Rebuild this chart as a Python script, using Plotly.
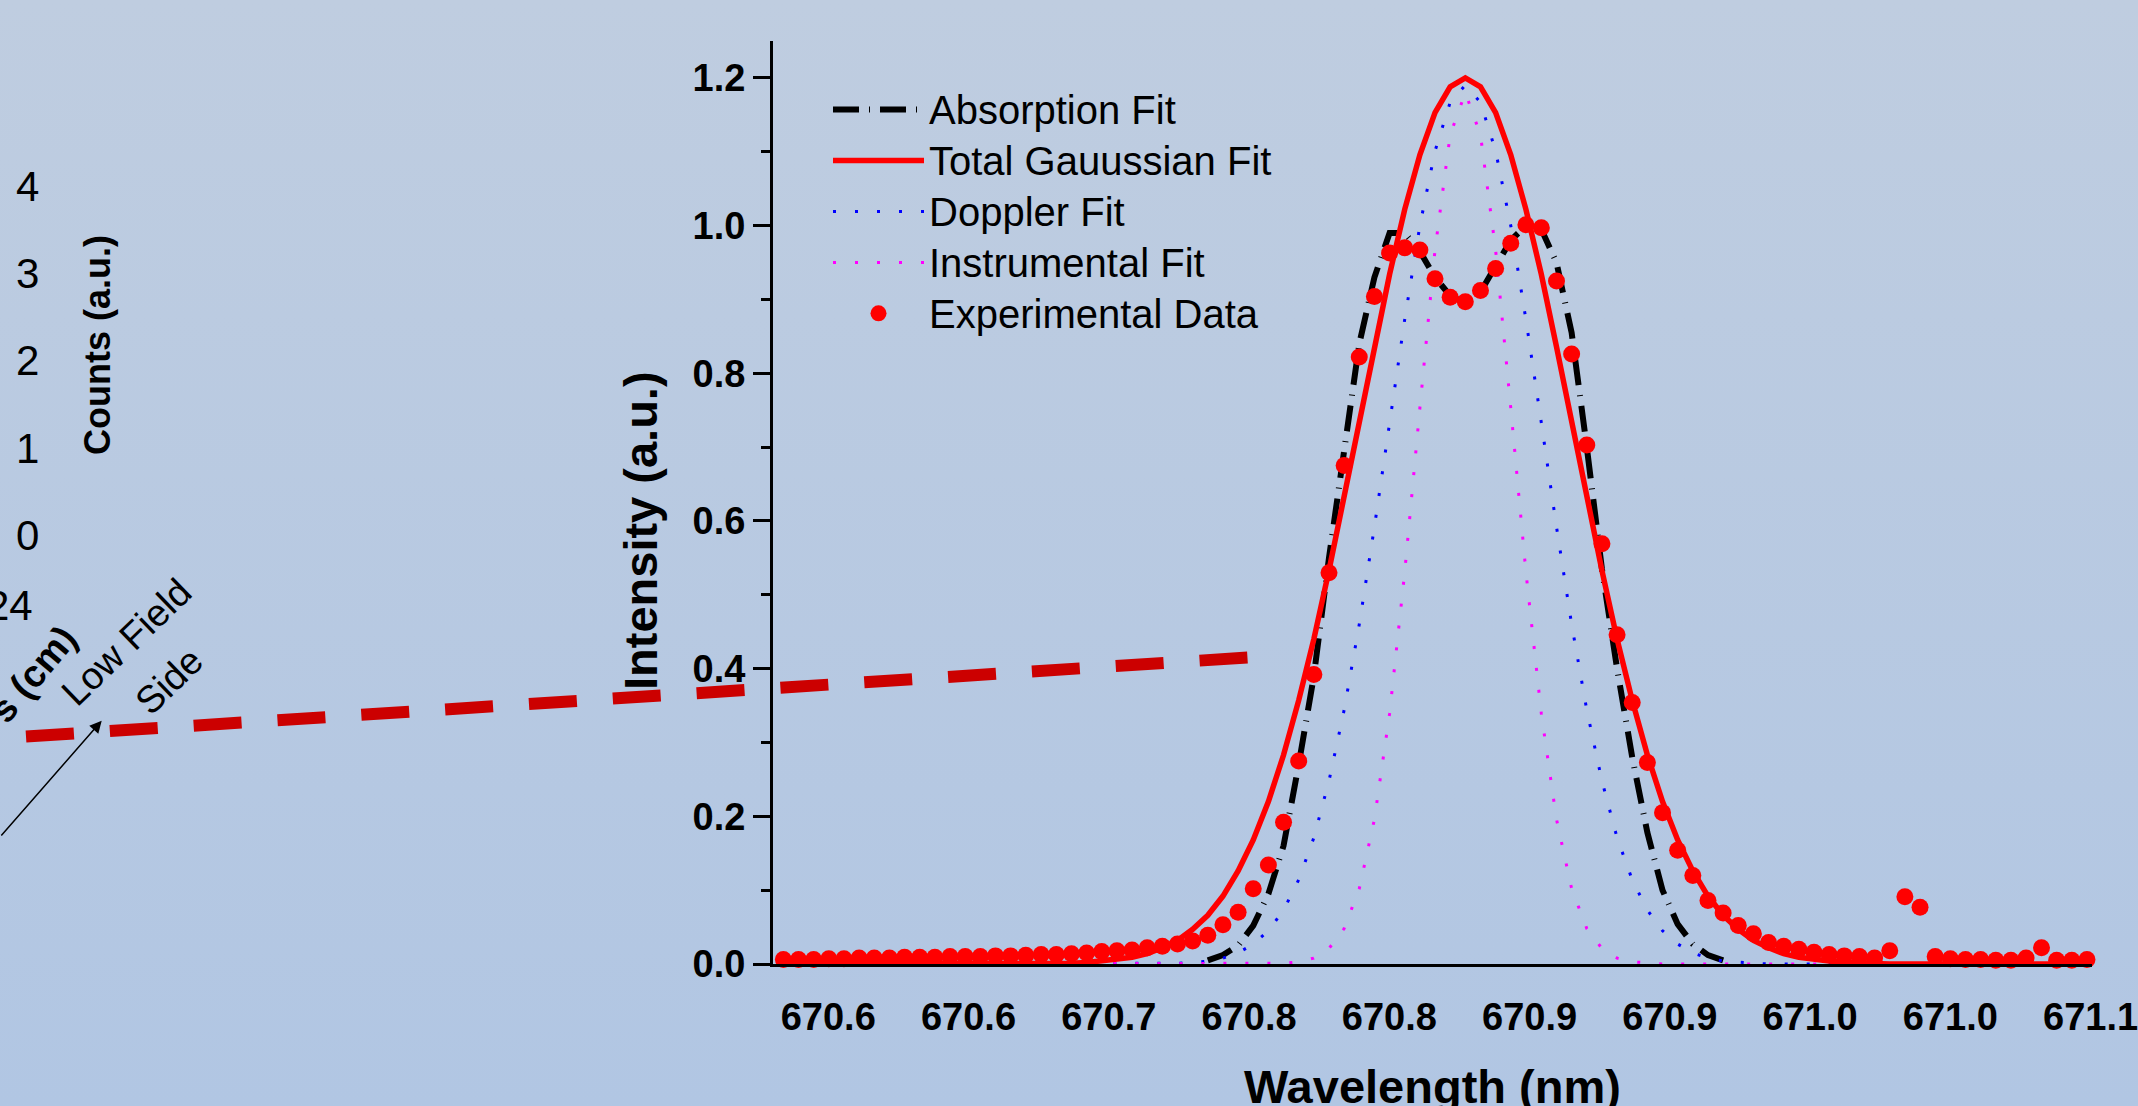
import base64
import plotly.graph_objects as go

# ---------------- data ----------------
wavelength = [
    670.5840, 670.5894, 670.5948, 670.6002, 670.6056, 670.6110, 670.6164, 670.6218, 670.6272, 670.6326,
    670.6380, 670.6434, 670.6488, 670.6542, 670.6596, 670.6650, 670.6704, 670.6759, 670.6813, 670.6867,
    670.6921, 670.6975, 670.7029, 670.7083, 670.7137, 670.7191, 670.7245, 670.7299, 670.7353, 670.7407,
    670.7461, 670.7515, 670.7569, 670.7623, 670.7677, 670.7731, 670.7785, 670.7839, 670.7893, 670.7947,
    670.8001, 670.8055, 670.8109, 670.8163, 670.8217, 670.8271, 670.8325, 670.8379, 670.8433, 670.8487,
    670.8542, 670.8596, 670.8650, 670.8704, 670.8758, 670.8812, 670.8866, 670.8920, 670.8974, 670.9028,
    670.9082, 670.9136, 670.9190, 670.9244, 670.9298, 670.9352, 670.9406, 670.9460, 670.9514, 670.9568,
    670.9622, 670.9676, 670.9730, 670.9784, 670.9838, 670.9892, 670.9946, 671.0000, 671.0054, 671.0108,
    671.0162, 671.0216, 671.0270, 671.0325, 671.0379, 671.0433, 671.0487,
]

experimental_data = [
    0.006, 0.006, 0.006, 0.007, 0.007, 0.008, 0.008, 0.008, 0.009, 0.009,
    0.009, 0.010, 0.010, 0.010, 0.011, 0.011, 0.012, 0.013, 0.013, 0.014,
    0.015, 0.017, 0.018, 0.019, 0.022, 0.024, 0.027, 0.031, 0.039, 0.053,
    0.070, 0.102, 0.134, 0.192, 0.275, 0.392, 0.530, 0.675, 0.822, 0.904,
    0.963, 0.970, 0.967, 0.928, 0.903, 0.897, 0.912, 0.942, 0.976, 1.001,
    0.997, 0.925, 0.826, 0.703, 0.569, 0.446, 0.354, 0.273, 0.205, 0.154,
    0.120, 0.086, 0.069, 0.052, 0.041, 0.029, 0.024, 0.020, 0.016, 0.013,
    0.011, 0.010, 0.008, 0.018, 0.091, 0.077, 0.010, 0.007, 0.006, 0.006,
    0.005, 0.005, 0.008, 0.022, 0.005, 0.005, 0.006,
]

total_gaussian_fit = [
    0, 0, 0, 0, 0, 0, 0, 0, 0, 0,
    0, 0, 0, 0, 0, 0, 0, 0, 0, 0.001,
    0.002, 0.004, 0.006, 0.009, 0.014, 0.022, 0.032, 0.047, 0.066, 0.092,
    0.126, 0.168, 0.220, 0.283, 0.357, 0.440, 0.533, 0.632, 0.734, 0.836,
    0.934, 1.022, 1.096, 1.153, 1.188, 1.200, 1.188, 1.153, 1.096, 1.022,
    0.934, 0.836, 0.734, 0.632, 0.533, 0.440, 0.357, 0.283, 0.220, 0.168,
    0.126, 0.092, 0.066, 0.047, 0.032, 0.022, 0.014, 0.009, 0.006, 0.004,
    0.002, 0.001, 0, 0, 0, 0, 0, 0, 0, 0,
    0, 0, 0, 0, 0, 0, 0,
]

doppler_fit = [
    0, 0, 0, 0, 0, 0, 0, 0, 0, 0,
    0, 0, 0, 0, 0, 0, 0, 0, 0, 0,
    0, 0, 0, 0, 0, 0, 0.001, 0.002, 0.004, 0.008,
    0.015, 0.027, 0.045, 0.073, 0.114, 0.171, 0.248, 0.344, 0.460, 0.592,
    0.733, 0.873, 1.000, 1.101, 1.167, 1.190, 1.167, 1.101, 1.000, 0.873,
    0.733, 0.592, 0.460, 0.344, 0.248, 0.171, 0.114, 0.073, 0.045, 0.027,
    0.015, 0.008, 0.004, 0.002, 0.001, 0, 0, 0, 0, 0,
    0, 0, 0, 0, 0, 0, 0, 0, 0, 0,
    0, 0, 0, 0, 0, 0, 0,
]

instrumental_fit = [
    0, 0, 0, 0, 0, 0, 0, 0, 0, 0,
    0, 0, 0, 0, 0, 0, 0, 0, 0, 0,
    0, 0, 0, 0, 0, 0, 0, 0, 0, 0,
    0, 0, 0, 0.001, 0.003, 0.008, 0.021, 0.048, 0.102, 0.196,
    0.339, 0.531, 0.753, 0.967, 1.123, 1.180, 1.123, 0.967, 0.753, 0.531,
    0.339, 0.196, 0.102, 0.048, 0.021, 0.008, 0.003, 0.001, 0, 0,
    0, 0, 0, 0, 0, 0, 0, 0, 0, 0,
    0, 0, 0, 0, 0, 0, 0, 0, 0, 0,
    0, 0, 0, 0, 0, 0, 0,
]

absorption_fit = [
    None, None, None, None, None, None, None, None, None, None,
    None, None, None, None, None, None, None, None, None, None,
    None, None, None, None, None, None, None, None, 0.005, 0.012,
    0.025, 0.052, 0.095, 0.160, 0.270, 0.390, 0.550, 0.700, 0.840, 0.930,
    0.990, 0.990, 0.965, 0.930, 0.905, 0.895, 0.910, 0.945, 0.980, 1.000,
    0.995, 0.950, 0.855, 0.700, 0.535, 0.400, 0.280, 0.178, 0.100, 0.054,
    0.027, 0.012, 0.005, None, None, None, None, None, None, None,
    None, None, None, None, None, None, None, None, None, None,
    None, None, None, None, None, None, None,
]

series_names = ["Absorption Fit", "Total Gauussian Fit", "Doppler Fit", "Instrumental Fit", "Experimental Data"]

x_tick_vals = [670.60, 670.65, 670.70, 670.75, 670.80, 670.85, 670.90, 670.95, 671.00, 671.05]
x_tick_text = ["670.6", "670.6", "670.7", "670.8", "670.8", "670.9", "670.9", "671.0", "671.0", "671.1"]
x_long_ticks = [670.60, 670.70, 670.80, 670.90, 671.00]
x_short_ticks = [670.65, 670.75, 670.85, 670.95, 671.05]
y_tick_vals = [0.0, 0.2, 0.4, 0.6, 0.8, 1.0, 1.2]
y_tick_text = ["0.0", "0.2", "0.4", "0.6", "0.8", "1.0", "1.2"]
y_minor_vals = [0.1, 0.3, 0.5, 0.7, 0.9, 1.1]
left_panel_ticks = ["4", "3", "2", "1", "0"]

X_RANGE = [670.5803, 671.0505]
Y_RANGE = [0.0, 1.25]

# ---------------- layout geometry (pixels) ----------------
W, H = 2138, 1106
L, R, T, B = 773, 2092, 41, 964


def px(x):
    return (x - L) / (R - L)


def py(y):
    return (B - y) / (B - T)


FONT = "Liberation Sans"
BLACK = "#000000"


def legend_name(s):
    # glyphs at 40px while the legend row pitch follows the smaller legend font
    return '<span style="font-size:40px">' + s + "</span>"


fig = go.Figure()

fig.add_trace(go.Scatter(
    x=wavelength, y=absorption_fit, mode="lines", name=legend_name(series_names[0]),
    line=dict(color="#000000", width=6, dash="26px,10px,1px,10px"), legendrank=1,
))
fig.add_trace(go.Scatter(
    x=wavelength, y=doppler_fit, mode="lines", name=legend_name(series_names[2]),
    line=dict(color="#0000ff", width=3, dash="3px,19px"), legendrank=3,
))
fig.add_trace(go.Scatter(
    x=wavelength, y=instrumental_fit, mode="lines", name=legend_name(series_names[3]),
    line=dict(color="#ff00ff", width=3, dash="3px,19px"), legendrank=4,
))
fig.add_trace(go.Scatter(
    x=wavelength, y=total_gaussian_fit, mode="lines", name=legend_name(series_names[1]),
    line=dict(color="#ff0000", width=5.5), legendrank=2,
))
fig.add_trace(go.Scatter(
    x=wavelength, y=experimental_data, mode="markers", name=legend_name(series_names[4]),
    marker=dict(color="#ff0000", size=17, symbol="circle", line=dict(width=0)),
    cliponaxis=False, legendrank=5,
))

tickfont = dict(family=FONT, size=38, color=BLACK, weight="bold")
common = dict(showgrid=False, zeroline=False, automargin=False, fixedrange=True)

fig.update_layout(
    template="none",
    width=W, height=H, autosize=False,
    margin=dict(l=L, r=W - R, t=T, b=H - B, pad=0),
    paper_bgcolor="#b8cae1",
    plot_bgcolor="rgba(0,0,0,0)",
    font=dict(family=FONT, color=BLACK),
    showlegend=True,
    xaxis=dict(
        range=X_RANGE, autorange=False, tickmode="array", tickvals=x_tick_vals, ticktext=x_tick_text,
        ticks="outside", ticklen=17, tickwidth=3, tickcolor="rgba(0,0,0,0)", ticklabeloverflow="allow",
        showline=True, linewidth=3, linecolor=BLACK, tickfont=tickfont, **common,
    ),
    xaxis2=dict(
        overlaying="x", anchor="y", side="bottom", range=X_RANGE, autorange=False,
        tickmode="array", tickvals=x_long_ticks, ticks="outside", ticklen=17, tickwidth=3, tickcolor=BLACK,
        minor=dict(tickmode="array", tickvals=x_short_ticks, ticks="outside", ticklen=9, tickwidth=3, tickcolor=BLACK),
        showticklabels=False, showline=False, **common,
    ),
    xaxis3=dict(
        overlaying="x", anchor="y", side="top", range=X_RANGE, autorange=False,
        tickmode="array", tickvals=x_long_ticks, ticks="inside", ticklen=15, tickwidth=3, tickcolor=BLACK,
        minor=dict(tickmode="array", tickvals=x_short_ticks, ticks="inside", ticklen=7, tickwidth=3, tickcolor=BLACK),
        showticklabels=False, showline=True, linewidth=3, linecolor=BLACK, **common,
    ),
    yaxis=dict(
        range=Y_RANGE, autorange=False, tickmode="array", tickvals=y_tick_vals, ticktext=y_tick_text,
        ticks="outside", ticklen=17, tickwidth=3, tickcolor=BLACK,
        minor=dict(tickmode="array", tickvals=y_minor_vals, ticks="outside", ticklen=9, tickwidth=3, tickcolor=BLACK),
        showline=True, linewidth=3, linecolor=BLACK, tickfont=tickfont, **common,
    ),
    yaxis2=dict(
        overlaying="y", anchor="x", side="right", range=Y_RANGE, autorange=False,
        tickmode="array", tickvals=y_tick_vals, ticks="inside", ticklen=15, tickwidth=3, tickcolor=BLACK,
        minor=dict(tickmode="array", tickvals=y_minor_vals, ticks="inside", ticklen=8, tickwidth=3, tickcolor=BLACK),
        showticklabels=False, showline=True, linewidth=3, linecolor=BLACK, **common,
    ),
    legend=dict(
        x=px(828), y=py(79), xanchor="left", yanchor="top",
        bgcolor="rgba(0,0,0,0)", borderwidth=0,
        font=dict(family=FONT, size=36.9, color=BLACK),
        itemwidth=91, tracegroupgap=0, traceorder="normal",
    ),
)

# background gradient
svg = (
    '<svg xmlns="http://www.w3.org/2000/svg" width="2138" height="1106">'
    '<defs><linearGradient id="g" x1="0" y1="0" x2="0" y2="1">'
    '<stop offset="0" stop-color="#bfcde0"/><stop offset="1" stop-color="#b1c6e3"/>'
    '</linearGradient></defs><rect width="2138" height="1106" fill="url(#g)"/></svg>'
)
src = "data:image/svg+xml;base64," + base64.b64encode(svg.encode()).decode()
fig.add_layout_image(dict(
    source=src, xref="paper", yref="paper", x=px(0), y=py(0),
    sizex=W / (R - L), sizey=H / (B - T), xanchor="left", yanchor="top",
    sizing="stretch", layer="below",
))

# dark red dashed guide line crossing from the neighbouring panel
fig.add_shape(
    type="line", xref="paper", yref="paper",
    x0=px(26), y0=py(736.5), x1=px(1248), y1=py(657.5),
    line=dict(color="#cc0000", width=12, dash="48px,36px"), layer="above",
)

ann = []
# axis titles
ann.append(dict(text="Intensity (a.u.)", x=px(640), y=py(531), xref="paper", yref="paper",
                showarrow=False, textangle=-90, xanchor="center", yanchor="middle",
                font=dict(family=FONT, size=47, color=BLACK, weight="bold")))
ann.append(dict(text="Wavelength (nm)", x=px(1432.5), y=py(1086), xref="paper", yref="paper",
                showarrow=False, xanchor="center", yanchor="middle",
                font=dict(family=FONT, size=47, color=BLACK, weight="bold")))
# partial neighbouring panel on the left
for k, lab in enumerate(left_panel_ticks):
    ann.append(dict(text=lab, x=px(27), y=py(186.7 + 87.1 * k), xref="paper", yref="paper",
                    showarrow=False, xanchor="center", yanchor="middle",
                    font=dict(family=FONT, size=42, color=BLACK)))
ann.append(dict(text="24", x=px(35), y=py(605), xref="paper", yref="paper",
                showarrow=False, xanchor="right", yanchor="middle",
                font=dict(family=FONT, size=42, color=BLACK)))
ann.append(dict(text="Counts (a.u.)", x=px(97), y=py(345), xref="paper", yref="paper",
                showarrow=False, textangle=-90, xanchor="center", yanchor="middle",
                font=dict(family=FONT, size=36, color=BLACK, weight="bold")))
ann.append(dict(text="s (cm)", x=px(33), y=py(674), xref="paper", yref="paper",
                showarrow=False, textangle=-50, xanchor="center", yanchor="middle",
                font=dict(family=FONT, size=38, color=BLACK, weight="bold")))
ann.append(dict(text="Low Field", x=px(126.5), y=py(642), xref="paper", yref="paper",
                showarrow=False, textangle=-44, xanchor="center", yanchor="middle",
                font=dict(family=FONT, size=38, color=BLACK)))
ann.append(dict(text="Side", x=px(169), y=py(681), xref="paper", yref="paper",
                showarrow=False, textangle=-44, xanchor="center", yanchor="middle",
                font=dict(family=FONT, size=38, color=BLACK)))
ann.append(dict(text="", x=px(101.7), y=py(720.7), xref="paper", yref="paper",
                showarrow=True, ax=-111.7, ay=116.3, axref="pixel", ayref="pixel",
                arrowhead=2, arrowsize=1.6, arrowwidth=1.5, arrowcolor=BLACK))
fig.update_layout(annotations=ann)

fig.write_html("out.html", include_plotlyjs=True, config={"displayModeBar": False})
